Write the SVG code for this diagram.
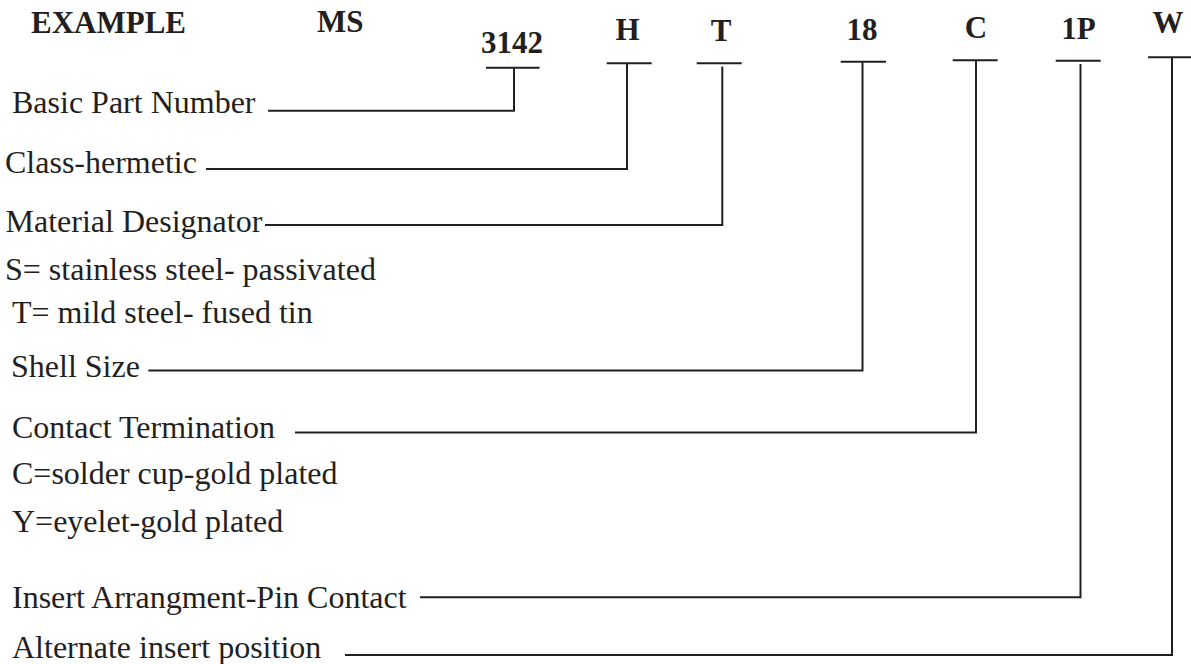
<svg xmlns="http://www.w3.org/2000/svg" width="1191" height="664" viewBox="0 0 1191 664">
<style>
.t{font-family:"Liberation Serif","Times New Roman",serif;font-size:32px;fill:#231f20}
.b{font-family:"Liberation Serif","Times New Roman",serif;font-size:31px;font-weight:bold;fill:#231f20}
.c{fill:none;stroke:#231f20;stroke-width:2;stroke-linecap:butt;stroke-linejoin:miter}
</style>
<rect width="1191" height="664" fill="#ffffff"/>
<g id="header">
<text class="b" x="31" y="33">EXAMPLE</text>
<text class="b" x="317" y="32">MS</text>
</g>
<g id="code-3142"><text class="b" x="512" y="53" text-anchor="middle">3142</text></g>
<g id="code-H"><text class="b" x="627.5" y="40" text-anchor="middle">H</text></g>
<g id="code-T"><text class="b" x="721" y="40.5" text-anchor="middle">T</text></g>
<g id="code-18"><text class="b" x="862" y="39.5" text-anchor="middle">18</text></g>
<g id="code-C"><text class="b" x="976" y="37.5" text-anchor="middle">C</text></g>
<g id="code-1P"><text class="b" x="1078.5" y="38.5" text-anchor="middle">1P</text></g>
<g id="code-W"><text class="b" x="1168" y="33" text-anchor="middle">W</text></g>
<g id="label-basic"><text class="t" x="12" y="112.7">Basic Part Number</text></g>
<g id="label-class"><text class="t" x="5" y="173.3">Class-hermetic</text></g>
<g id="label-material">
<text class="t" x="5.5" y="231.7">Material Designator</text>
<text class="t" x="5" y="280">S= stainless steel- passivated</text>
<text class="t" x="12" y="323.3">T= mild steel- fused tin</text>
</g>
<g id="label-shell"><text class="t" x="11" y="376.7">Shell Size</text></g>
<g id="label-contact">
<text class="t" x="12" y="438.3">Contact Termination</text>
<text class="t" x="12" y="484">C=solder cup-gold plated</text>
<text class="t" x="12" y="531.7">Y=eyelet-gold plated</text>
</g>
<g id="label-insert"><text class="t" x="12" y="608.3">Insert Arrangment-Pin Contact</text></g>
<g id="label-alternate"><text class="t" x="12" y="658.3">Alternate insert position</text></g>
<g id="connectors">
<path class="c" d="M486 67.7H539.5M514 67.7V110.7H268"/>
<path class="c" d="M606.7 63.3H651.7M627 63.3V169H206"/>
<path class="c" d="M696.7 63.3H741.7M722.3 66.5V225H265"/>
<path class="c" d="M840.7 61.7H886M862.5 61.7V370.5H148.3"/>
<path class="c" d="M952.7 60.3H997.7M976 60.3V432.5H295"/>
<path class="c" d="M1055.7 60.7H1100.7M1080.5 64V597.3H420"/>
<path class="c" d="M1148 57.3H1191M1172 57.3V655H345"/>
</g>
</svg>
